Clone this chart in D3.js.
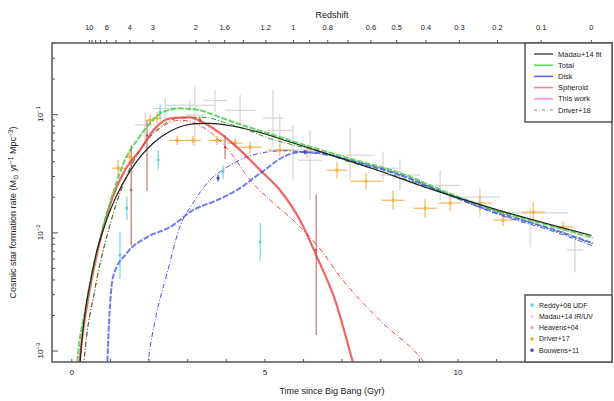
<!DOCTYPE html>
<html>
<head>
<meta charset="utf-8">
<script src="https://cdn.jsdelivr.net/npm/d3@7"></script>
<style>
  body { margin: 0; background: #fff; }
  text { font-family: "Liberation Sans", Arial, sans-serif; fill: #222; }
</style>
</head>
<body>
<div class="chart"></div>
<script>

// === Data (time since Big Bang in Gyr, SFR density in Msun/yr/Mpc^3) ===
const madauT   = [0.20, 0.27, 0.36, 0.47, 0.63, 0.92, 1.16, 1.52, 2.11, 2.57, 3.23, 3.57, 4.20, 5.75, 6.64, 7.76, 9.18, 11.03, 13.47];
const madauSfr = [0.0006, 0.00118, 0.00216, 0.0035, 0.0063, 0.0129, 0.020, 0.033, 0.0565, 0.072, 0.0831, 0.0836, 0.0790, 0.0570, 0.0460, 0.0350, 0.0240, 0.0155, 0.0094];

const totalT   = [0.12, 0.17, 0.36, 0.61, 0.87, 1.13, 1.39, 1.70, 2.04, 2.37, 2.81, 3.33, 3.85, 4.37, 5.15, 6.18, 7.22, 8.51, 9.81, 11.1, 12.4, 13.5];
const totalSfr = [0.0006, 0.00091, 0.0022, 0.0058, 0.0127, 0.024, 0.041, 0.060, 0.084, 0.104, 0.112, 0.108, 0.094, 0.082, 0.068, 0.053, 0.042, 0.0318, 0.0212, 0.0150, 0.0114, 0.0090];

const diskT   = [0.92, 0.98, 1.08, 1.44, 1.96, 2.56, 3.15, 3.77, 4.29, 4.89, 5.59, 5.92, 6.52, 7.22, 8.51, 9.81, 11.1, 12.4, 13.5];
const diskSfr = [0.0006, 0.0018, 0.0042, 0.0067, 0.0091, 0.0111, 0.0154, 0.0187, 0.0228, 0.0316, 0.045, 0.0478, 0.0465, 0.0405, 0.0305, 0.0205, 0.0143, 0.0108, 0.0081];

const sphT   = [0.18, 0.23, 0.43, 0.69, 1.0, 1.39, 1.78, 2.17, 2.56, 3.07, 3.41, 3.85, 4.37, 4.89, 5.40, 5.92, 6.36, 6.83, 7.29, 7.4];
const sphSfr = [0.0006, 0.00091, 0.00267, 0.0071, 0.017, 0.0336, 0.0496, 0.076, 0.092, 0.094, 0.0855, 0.069, 0.0496, 0.0336, 0.0228, 0.0127, 0.0062, 0.00267, 0.0008, 0.0006];

// Driver+18 model curves (dash-dot)
const drvTotalT   = [0.30, 0.33, 0.61, 1.0, 1.39, 1.78, 2.30, 2.81, 3.41, 4.11, 4.63, 5.15, 5.74, 6.36, 7.04, 8.0, 9.13, 10.5, 12.0, 13.5];
const drvTotalSfr = [0.0006, 0.0008, 0.0033, 0.0115, 0.028, 0.050, 0.078, 0.093, 0.094, 0.082, 0.072, 0.062, 0.055, 0.049, 0.041, 0.033, 0.025, 0.0172, 0.0118, 0.0080];

const drvDiskT   = [1.95, 1.99, 2.17, 2.48, 2.81, 3.15, 3.59, 4.03, 4.89, 5.53, 6.44, 7.48, 8.51, 9.81, 11.1, 12.4, 13.5];
const drvDiskSfr = [0.0006, 0.0008, 0.0018, 0.0045, 0.0111, 0.0177, 0.0277, 0.0356, 0.0468, 0.0490, 0.0460, 0.0390, 0.0310, 0.0206, 0.0140, 0.0104, 0.0077];

const drvSphT   = [0.30, 0.33, 0.61, 1.0, 1.39, 1.78, 2.30, 2.81, 3.41, 4.11, 4.63, 5.15, 5.74, 6.36, 7.04, 7.99, 9.13, 9.4];
const drvSphSfr = [0.0006, 0.0008, 0.00324, 0.0115, 0.0277, 0.0496, 0.076, 0.089, 0.0776, 0.0478, 0.0277, 0.0187, 0.0127, 0.0078, 0.0039, 0.0018, 0.0008, 0.0006];

// Observations: [t, sfr, tErr, dexUp, dexDown]
const grayObs = [
  [3.20, 0.098, 0.26, 0.24, 0.27], [3.07, 0.119, 0.65, 0.05, 0.05], [3.72, 0.131, 0.31, 0.085, 0.10],
  [4.37, 0.108, 0.39, 0.13, 0.13], [5.22, 0.0925, 0.26, 0.24, 0.25], [5.40, 0.073, 0.31, 0.14, 0.14],
  [5.74, 0.0496, 0.65, 0.21, 0.25], [6.18, 0.0408, 0.31, 0.25, 0.34], [7.22, 0.045, 0.65, 0.23, 0.21],
  [8.07, 0.0349, 0.39, 0.14, 0.12], [8.51, 0.0305, 0.52, 0.13, 0.13], [9.55, 0.025, 0.52, 0.13, 0.13],
  [10.58, 0.0199, 0.52, 0.08, 0.17], [11.88, 0.0146, 0.98, 0.04, 0.29], [13.04, 0.0071, 0.21, 0.11, 0.19],
  [2.43, 0.112, 0.31, 0.085, 0.085], [1.91, 0.081, 0.26, 0.10, 0.13]
];
const orangeObs = [
  [1.21, 0.0349, 0.16, 0.07, 0.07], [1.52, 0.0433, 0.13, 0.07, 0.07], [2.04, 0.089, 0.13, 0.05, 0.05],
  [2.22, 0.0925, 0.13, 0.05, 0.05], [2.74, 0.060, 0.2, 0.04, 0.04], [3.15, 0.060, 0.2, 0.04, 0.04],
  [3.77, 0.060, 0.2, 0.04, 0.04], [4.24, 0.0569, 0.2, 0.04, 0.04], [4.63, 0.0526, 0.3, 0.05, 0.05],
  [5.40, 0.0496, 0.3, 0.05, 0.05], [6.10, 0.0478, 0.3, 0.05, 0.05], [6.88, 0.0336, 0.26, 0.07, 0.07],
  [7.63, 0.0271, 0.4, 0.07, 0.07], [8.33, 0.0187, 0.3, 0.08, 0.08], [9.16, 0.016, 0.3, 0.08, 0.08],
  [9.81, 0.0177, 0.3, 0.07, 0.07], [10.58, 0.0177, 0.3, 0.07, 0.07], [11.18, 0.0127, 0.26, 0.05, 0.05],
  [11.96, 0.0148, 0.3, 0.08, 0.08], [12.73, 0.0111, 0.3, 0.05, 0.05]
];
const cyanObs = [
  [2.30, 0.104, 0, 0.07, 0.07], [2.25, 0.041, 0, 0.08, 0.08], [1.44, 0.016, 0, 0.1, 0.1],
  [1.26, 0.0064, 0, 0.2, 0.2], [3.93, 0.0324, 0, 0.06, 0.06], [4.89, 0.0083, 0, 0.16, 0.16]
];
const redObs = [
  [1.55, 0.0228, 0, 0.38, 0.47], [1.96, 0.066, 0, 0.13, 0.47], [3.33, 0.089, 0, 0.03, 0.03],
  [3.98, 0.0525, 0, 0.1, 0.1], [6.34, 0.0071, 0, 0.47, 0.72]
];
const blueObs = [[3.80, 0.0288, 0, 0.03, 0.03], [6.05, 0.0478, 0, 0.02, 0.02]];

// Redshift axis
const zTicks  = [10, 9, 8, 7, 6, 5, 4, 3, 2, 1.8, 1.6, 1.4, 1.2, 1, 0.9, 0.8, 0.7, 0.6, 0.5, 0.4, 0.3, 0.2, 0.1, 0];
const zLabels = [10, 6, 4, 3, 2, 1.6, 1.2, 1, 0.8, 0.6, 0.5, 0.4, 0.3, 0.2, 0.1, 0];

const lineLegend = ["Madau+14 fit", "Total", "Disk", "Spheroid", "This work", "Driver+18"];
const pointLegend = ["Reddy+08 UDF", "Madau+14 IR/UV", "Heavens+04", "Driver+17", "Bouwens+11"];

// age of universe at redshift z (flat LCDM, H0=70, Om=0.3)
function ageGyr(z) {
  return 11.13 * Math.asinh(1.5275 * Math.pow(1 + z, -1.5));
}

// === SVG ===
const W = 614, H = 401;
const pLeft = 52, pRight = 612, pTop = 43, pBottom = 362;

const svg = d3.select(".chart").append("svg")
    .attr("width", W)
    .attr("height", H);

// === Scales ===
const x = d3.scaleLinear().domain([-0.5, 14]).range([pLeft, pRight]);
const y = d3.scaleLog().domain([8e-4, 0.4]).range([pBottom, pTop]);

svg.append("clipPath").attr("id", "clip")
  .append("rect")
    .attr("x", pLeft).attr("y", pTop)
    .attr("width", pRight - pLeft).attr("height", pBottom - pTop);

const plot = svg.append("g").attr("clip-path", "url(#clip)");

// === Observations ===
function drawObs(data, color, width, marker) {
  const g = plot.append("g");
  data.forEach(d => {
    const cx = x(d[0]), cy = y(d[1]);
    if (d[2] > 0) {
      g.append("line")
        .attr("x1", x(d[0] - d[2])).attr("x2", x(d[0] + d[2]))
        .attr("y1", cy).attr("y2", cy)
        .attr("stroke", color).attr("stroke-width", width);
    }
    g.append("line")
      .attr("x1", cx).attr("x2", cx)
      .attr("y1", y(d[1] * Math.pow(10, d[3]))).attr("y2", y(d[1] / Math.pow(10, d[4])))
      .attr("stroke", color).attr("stroke-width", width);
    if (marker) {
      g.append("circle").attr("cx", cx).attr("cy", cy).attr("r", marker).attr("fill", color);
    }
  });
}

drawObs(grayObs, "#cccccc", 1, 0);
drawObs(cyanObs, "#4fd6dc", 1, 1.4);
drawObs(redObs, "#b85a5a", 1, 1.3);
drawObs(orangeObs, "#f5b04a", 1.1, 1.8);
drawObs(blueObs, "#3a3acc", 1, 1.6);

// === Curves ===
const line = d3.line()
    .x(d => x(d[0]))
    .y(d => y(d[1]))
    .curve(d3.curveMonotoneX);

function drawCurve(ts, vals, color, width, dash, opacity) {
  plot.append("path")
    .datum(d3.zip(ts, vals))
    .attr("d", line)
    .attr("fill", "none")
    .attr("stroke", color)
    .attr("stroke-width", width)
    .attr("stroke-dasharray", dash)
    .attr("stroke-opacity", opacity);
}

drawCurve(drvSphT, drvSphSfr, "#ee3030", 1, "5,2,1,2", 0.9);
drawCurve(drvDiskT, drvDiskSfr, "#3a3aee", 1, "5,2,1,2", 0.9);
drawCurve(drvTotalT, drvTotalSfr, "#208820", 1, "5,2,1,2", 0.9);
drawCurve(sphT, sphSfr, "#ee3030", 2.2, null, 0.75);
drawCurve(diskT, diskSfr, "#4050ee", 2, "6,1.5", 0.75);
drawCurve(totalT, totalSfr, "#40cc40", 2, "6,1.5", 0.8);
drawCurve(madauT, madauSfr, "#222", 1.2, null, 1);

// === Frame ===
svg.append("rect")
    .attr("x", pLeft).attr("y", pTop)
    .attr("width", pRight - pLeft).attr("height", pBottom - pTop)
    .attr("fill", "none").attr("stroke", "#555").attr("stroke-width", 1.5);

// === Bottom axis (ticks point inward) ===
const xAxis = d3.axisBottom(x)
    .tickValues(d3.range(0, 14, 1))
    .tickSize(-3)
    .tickFormat(d => d % 5 === 0 ? d : "");
const xAxisG = svg.append("g")
    .attr("transform", `translate(0,${pBottom})`)
    .call(xAxis);
xAxisG.select(".domain").remove();
xAxisG.selectAll(".tick line").attr("stroke", "#555");
xAxisG.selectAll(".tick text")
    .attr("y", 7)
    .style("font-size", "8px")
    .style("font-family", "Liberation Sans, Arial, sans-serif");

svg.append("text")
    .attr("x", (pLeft + pRight) / 2).attr("y", 394)
    .attr("text-anchor", "middle")
    .style("font-size", "9px")
    .text("Time since Big Bang (Gyr)");

// === Left axis (log, inward ticks) ===
const yMinor = [];
[1e-3, 1e-2, 1e-1].forEach(dec => d3.range(1, 10).forEach(k => {
  const v = dec * k;
  if (v >= 8e-4 && v <= 0.4) yMinor.push(v);
}));
const yAxis = d3.axisLeft(y)
    .tickValues(yMinor)
    .tickSize(-3)
    .tickFormat("");
const yAxisG = svg.append("g")
    .attr("transform", `translate(${pLeft},0)`)
    .call(yAxis);
yAxisG.select(".domain").remove();
yAxisG.selectAll(".tick line")
    .attr("stroke", "#555")
    .attr("x2", d => Math.abs(Math.log10(d) - Math.round(Math.log10(d))) < 1e-6 ? 6 : 3);

[-3, -2, -1].forEach(p => {
  const t = svg.append("text")
      .attr("transform", `translate(43,${y(Math.pow(10, p))}) rotate(-90)`)
      .attr("text-anchor", "middle")
      .style("font-size", "8px");
  t.append("tspan").text("10");
  t.append("tspan").attr("dy", -3).style("font-size", "6px").text("\u2212" + (-p));
});

const yTitle = svg.append("text")
    .attr("transform", `translate(16,${(pTop + pBottom) / 2 + 10}) rotate(-90)`)
    .attr("text-anchor", "middle")
    .style("font-size", "9px");
yTitle.append("tspan").text("Cosmic star formation rate (M");
yTitle.append("tspan").attr("dy", 2).style("font-size", "6.5px").text("\u2299");
yTitle.append("tspan").attr("dy", -2).text(" yr");
yTitle.append("tspan").attr("dy", -3).style("font-size", "6.5px").text("\u22121");
yTitle.append("tspan").attr("dy", 3).text(" Mpc");
yTitle.append("tspan").attr("dy", -3).style("font-size", "6.5px").text("\u22123");
yTitle.append("tspan").attr("dy", 3).text(")");

// === Top axis: redshift ===
const topG = svg.append("g");
topG.selectAll("line.zt")
  .data(zTicks)
  .join("line")
    .attr("class", "zt")
    .attr("x1", d => x(ageGyr(d))).attr("x2", d => x(ageGyr(d)))
    .attr("y1", pTop).attr("y2", pTop - 3)
    .attr("stroke", "#555");
topG.selectAll("text.zl")
  .data(zLabels)
  .join("text")
    .attr("class", "zl")
    .attr("x", d => x(ageGyr(d)))
    .attr("y", 30)
    .attr("text-anchor", "middle")
    .style("font-size", "7.5px")
    .text(d => d);
svg.append("text")
    .attr("x", (pLeft + pRight) / 2).attr("y", 18)
    .attr("text-anchor", "middle")
    .style("font-size", "9px")
    .text("Redshift");

// === Legends ===
const lineStyles = [
  {c: "#222", w: 1.2, dash: null},
  {c: "#55dd55", w: 1.5, dash: null},
  {c: "#5060ee", w: 1.5, dash: null},
  {c: "#ff8080", w: 1.5, dash: null},
  {c: "#ff80ff", w: 1.5, dash: null},
  {c: "#888", w: 1, dash: "3,2,1,2"}
];
const lg1 = svg.append("g");
lg1.append("rect")
    .attr("x", 525).attr("y", pTop).attr("width", pRight - 525).attr("height", 79)
    .attr("fill", "#fff").attr("stroke", "#555").attr("stroke-width", 1.5);
lineLegend.forEach((name, i) => {
  const yy = 54 + i * 11.2;
  lg1.append("line")
      .attr("x1", 534).attr("x2", 553).attr("y1", yy).attr("y2", yy)
      .attr("stroke", lineStyles[i].c).attr("stroke-width", lineStyles[i].w)
      .attr("stroke-dasharray", lineStyles[i].dash);
  lg1.append("text")
      .attr("x", 558).attr("y", yy + 2.5)
      .style("font-size", "7.5px")
      .text(name);
});

const pointColors = ["#4fd6dc", "#dddddd", "#f0a0a0", "#f5a020", "#3a3acc"];
const lg2 = svg.append("g");
lg2.append("rect")
    .attr("x", 525).attr("y", 295).attr("width", pRight - 525).attr("height", pBottom - 295)
    .attr("fill", "#fff").attr("stroke", "#555").attr("stroke-width", 1.5);
pointLegend.forEach((name, i) => {
  const yy = 305 + i * 11.3;
  lg2.append("rect")
      .attr("x", 530.5).attr("y", yy - 1.5).attr("width", 3).attr("height", 3)
      .attr("fill", pointColors[i]);
  lg2.append("text")
      .attr("x", 539).attr("y", yy + 2.5)
      .style("font-size", "7px")
      .text(name);
});

</script>
</body>
</html>
